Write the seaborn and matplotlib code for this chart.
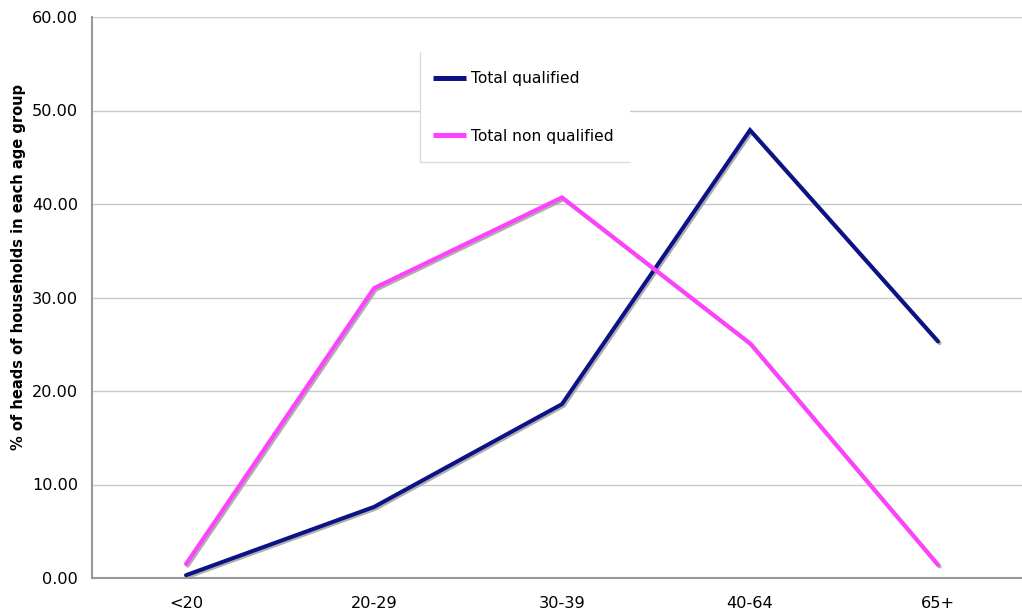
import matplotlib
matplotlib.use("Agg")
import matplotlib.pyplot as plt
import matplotlib.patheffects as pe
from matplotlib.patches import Rectangle
from matplotlib.lines import Line2D
from matplotlib.ticker import FixedLocator, FormatStrFormatter
import seaborn as sns
import pandas as pd

age_groups = ["<20", "20-29", "30-39", "40-64", "65+"]
qualified = [0.3, 7.6, 18.6, 47.9, 25.3]
non_qualified = [1.5, 31.0, 40.7, 25.1, 1.4]
series_names = ["Total qualified", "Total non qualified"]
series_colors = ["#0d1387", "#ff40ff"]

df = pd.DataFrame({
    "age": age_groups * 2,
    "pos": list(range(len(age_groups))) * 2,
    "value": qualified + non_qualified,
    "series": [series_names[0]] * len(age_groups) + [series_names[1]] * len(age_groups),
})

sns.set_style("white")
plt.rcParams["font.family"] = ["DejaVu Sans"]

W, H = 1022, 612
fig = plt.figure(figsize=(W / 100, H / 100), dpi=100)


def fx(px):
    return px / W


def fy(py):
    return 1 - py / H


# plot area runs past the right edge of the canvas
ax = fig.add_axes([fx(92), fy(578), 940 / W, 561 / H])

sns.lineplot(data=df, x="pos", y="value", hue="series", palette=series_colors,
             hue_order=series_names, linewidth=2.9, ax=ax, legend=True, sort=False)

for line in ax.get_lines():
    line.set_solid_joinstyle("miter")
    line.set_zorder(3)
    line.set_path_effects([
        pe.SimpleLineShadow(offset=(1.2, -1.2), shadow_color="#9a9a9a", alpha=0.8),
        pe.Normal(),
    ])

ax.set_xlim(-0.5, len(age_groups) - 0.5)
ax.set_ylim(0, 60)
ax.set_yticks(range(0, 61, 10))
ax.yaxis.set_major_formatter(FormatStrFormatter("%.2f"))
ax.set_xticks(range(len(age_groups)))
ax.set_xticklabels(age_groups)
ax.xaxis.set_minor_locator(FixedLocator([i - 0.5 for i in range(len(age_groups) + 1)]))
ax.tick_params(axis="x", which="major", length=0, pad=13, labelsize=11.6, colors="#000000")
ax.tick_params(axis="x", which="minor", length=6, width=1, color="#999999", direction="out")
ax.tick_params(axis="y", which="major", length=6, width=1, color="#999999", direction="out",
               labelsize=11.6, pad=4, labelcolor="#000000")

ax.grid(axis="y", color="#c8c8c8", linewidth=1)
ax.set_axisbelow(True)
for side in ["top", "right"]:
    ax.spines[side].set_visible(False)
for side in ["left", "bottom"]:
    ax.spines[side].set_color("#999999")
    ax.spines[side].set_linewidth(1.5)

ax.set_xlabel("")
ax.set_ylabel("% of heads of households in each age group", fontsize=10.5,
              fontweight="bold", color="#000000")
ax.yaxis.set_label_coords((26 - 92) / 940, (578 - 267) / 561)

# legend panel: white box with a light left and bottom edge
box_l, box_t, box_r, box_b = 420, 52, 630, 162
ax.add_patch(Rectangle((fx(box_l), fy(box_b)), fx(box_r) - fx(box_l), fy(box_t) - fy(box_b),
                       transform=fig.transFigure, facecolor="white", edgecolor="none",
                       zorder=1.5))
ax.add_line(Line2D([fx(box_l), fx(box_l), fx(box_r)], [fy(box_t), fy(box_b), fy(box_b)],
                   transform=fig.transFigure, color="#dcdcdc", linewidth=1, zorder=1.6))

leg = ax.legend(loc="upper left", bbox_to_anchor=(fx(433), fy(71)),
                bbox_transform=fig.transFigure, frameon=False, fontsize=11.2,
                handlelength=2.15, labelspacing=2.75, borderpad=0, handletextpad=0.3,
                borderaxespad=0)
for h in leg.get_lines():
    h.set_linewidth(3.6)
    h.set_solid_capstyle("butt")
    h.set_path_effects([])
for t in leg.get_texts():
    t.set_color("#000000")

fig.savefig("out.png", dpi=100)
